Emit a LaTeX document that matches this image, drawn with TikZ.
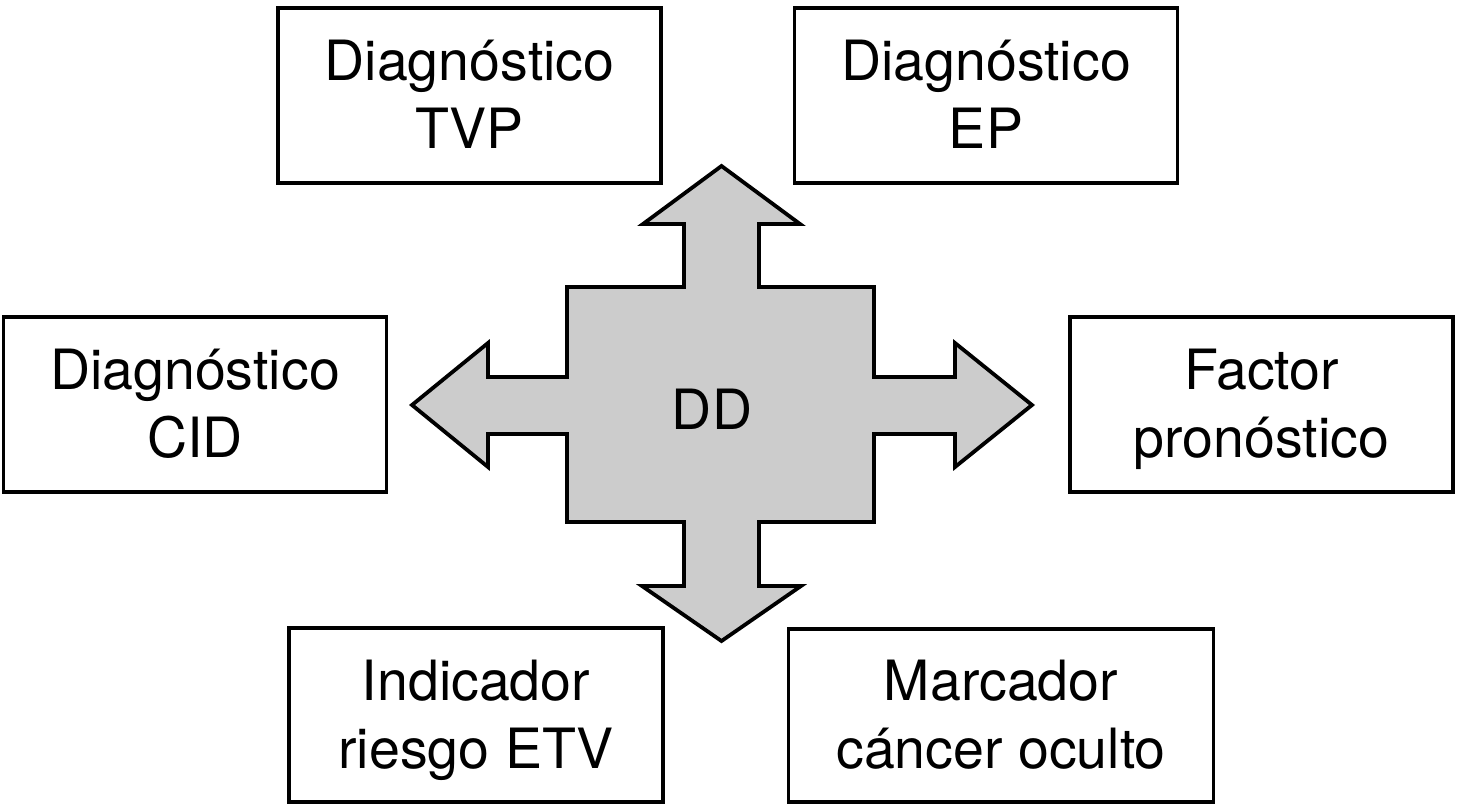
\documentclass[tikz,border=0pt]{standalone}
\usepackage{fontspec}
\setmainfont{TeX Gyre Heros}
\definecolor{arrowgray}{RGB}{204,204,204}
\newcommand\lstrut{\rule[-14.5pt]{0pt}{67.5pt}}
\tikzset{
  infobox/.style={draw=black, line width=3.2pt, rectangle, inner sep=0pt, align=center,
    font=\fontsize{55.5}{68}\selectfont},
  crossshape/.style={draw=black, fill=arrowgray, line width=3.8pt, line join=miter},
  centerlabel/.style={inner sep=0pt, font=\fontsize{55.5}{68}\selectfont}
}
\begin{document}
\begin{tikzpicture}[x=1pt,y=-1pt]
\useasboundingbox (0,0) rectangle (1458,806);
% central cross with four arrows
\draw[crossshape] (721.5,166) -- (800,224) -- (759,224) -- (759,287) -- (874,287) -- (874,377)
  -- (955,377) -- (955,343) -- (1032,405) -- (955,467) -- (955,434) -- (874,434)
  -- (874,522) -- (759,522) -- (759,586) -- (801,586) -- (721.5,641) -- (642,586)
  -- (684,586) -- (684,522) -- (567,522) -- (567,434) -- (488,434) -- (488,467)
  -- (412,405) -- (488,343) -- (488,377) -- (567,377) -- (567,287) -- (684,287)
  -- (684,224) -- (643,224) -- cycle;
\node[centerlabel] (dd) at (712,409.5) {DD};
% boxes
\node[infobox, minimum width=383pt, minimum height=175pt] (tvp) at (469.5,95.5)
  {\lstrut Diagnóstico\\\lstrut TVP};
\node[infobox, minimum width=383pt, minimum height=175pt] (ep) at (986,95.5)
  {\lstrut Diagnóstico\\\lstrut EP};
\node[infobox, minimum width=383pt, minimum height=175pt] (cid) at (195,404.5)
  {\lstrut Diagnóstico\\\lstrut CID};
\node[infobox, minimum width=383pt, minimum height=175pt] (fp) at (1261.5,404.5)
  {\lstrut Factor\\\lstrut pronóstico};
\node[infobox, minimum width=374pt, minimum height=174pt] (ie) at (476,715)
  {\lstrut Indicador\\\lstrut riesgo ETV};
\node[infobox, minimum width=425pt, minimum height=173pt] (mc) at (1001,715.5)
  {\lstrut Marcador\\\lstrut cáncer oculto};
\end{tikzpicture}
\end{document}
